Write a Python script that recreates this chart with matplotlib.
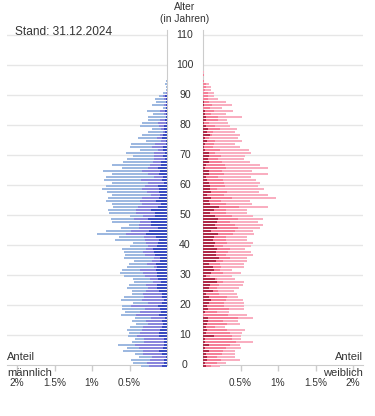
import matplotlib.pyplot as plt
import numpy as np
from matplotlib.transforms import blended_transform_factory

plt.rcParams['font.family'] = ['Liberation Sans', 'DejaVu Sans']

# Bevoelkerung nach Alter (Anteil in %), je drei Gruppen, Alter 0..100
ages = np.arange(0, 101)

male_dark = [
    0.07, 0.04, 0.04, 0.01, 0.07, 0.11, 0.05, 0.04, 0.04, 0.04,
    0.11, 0.11, 0.09, 0.07, 0.05, 0.07, 0.03, 0.11, 0.08, 0.09,
    0.12, 0.07, 0.04, 0.07, 0.07, 0.11, 0.13, 0.13, 0.08, 0.12,
    0.13, 0.13, 0.15, 0.13, 0.15, 0.09, 0.09, 0.16, 0.17, 0.19,
    0.13, 0.12, 0.11, 0.15, 0.28, 0.24, 0.12, 0.21, 0.21, 0.25,
    0.16, 0.16, 0.21, 0.12, 0.08, 0.15, 0.11, 0.09, 0.11, 0.11,
    0.12, 0.04, 0.07, 0.05, 0.11, 0.09, 0.12, 0.08, 0.08, 0.03,
    0.05, 0.03, 0.05, 0.05, 0.01, 0.01, 0.07, 0.05, 0.03, 0.04,
    0.04, 0.01, 0.03, 0.01, 0.01, 0.03, 0.01, 0.01, 0.01, 0.01,
    0.03, 0, 0, 0, 0, 0, 0, 0, 0, 0, 0]
male_mid = [
    0.17, 0.23, 0.19, 0.19, 0.25, 0.21, 0.33, 0.39, 0.27, 0.27,
    0.29, 0.25, 0.24, 0.25, 0.20, 0.21, 0.19, 0.31, 0.28, 0.20,
    0.36, 0.19, 0.29, 0.24, 0.25, 0.17, 0.12, 0.15, 0.11, 0.11,
    0.17, 0.19, 0.21, 0.05, 0.12, 0.11, 0.09, 0.13, 0.15, 0.09,
    0.12, 0.16, 0.19, 0.16, 0.27, 0.24, 0.25, 0.17, 0.15, 0.19,
    0.16, 0.25, 0.21, 0.27, 0.25, 0.21, 0.23, 0.13, 0.16, 0.23,
    0.17, 0.21, 0.28, 0.13, 0.15, 0.24, 0.13, 0.15, 0.11, 0.15,
    0.12, 0.15, 0.07, 0.15, 0.15, 0.07, 0.07, 0.05, 0.03, 0.04,
    0.07, 0.11, 0.07, 0.01, 0.03, 0.07, 0, 0.03, 0.01, 0.03,
    0.03, 0.01, 0, 0, 0, 0, 0, 0, 0, 0, 0]
male_light = [
    0.11, 0.19, 0.25, 0.17, 0.11, 0.27, 0.15, 0.23, 0.16, 0.12,
    0.12, 0.15, 0.20, 0.17, 0.16, 0.19, 0.21, 0.19, 0.20, 0.31,
    0.12, 0.19, 0.28, 0.27, 0.15, 0.19, 0.29, 0.23, 0.25, 0.23,
    0.27, 0.31, 0.24, 0.35, 0.24, 0.24, 0.39, 0.27, 0.25, 0.32,
    0.25, 0.17, 0.40, 0.33, 0.39, 0.33, 0.25, 0.13, 0.37, 0.31,
    0.17, 0.36, 0.37, 0.33, 0.41, 0.45, 0.45, 0.51, 0.53, 0.53,
    0.52, 0.48, 0.49, 0.64, 0.47, 0.52, 0.35, 0.51, 0.40, 0.36,
    0.28, 0.37, 0.24, 0.29, 0.32, 0.20, 0.25, 0.24, 0.19, 0.12,
    0.25, 0.21, 0.15, 0.23, 0.15, 0.17, 0.05, 0.16, 0.13, 0.12,
    0.05, 0.04, 0.01, 0.01, 0.03, 0.01, 0, 0, 0, 0, 0]

female_dark = [
    0.04, 0.03, 0.05, 0.05, 0.04, 0.08, 0.03, 0.08, 0.03, 0.03,
    0.15, 0.04, 0.05, 0.04, 0.05, 0.07, 0.07, 0, 0.03, 0.07,
    0.05, 0.08, 0.11, 0.08, 0.04, 0.13, 0.08, 0.09, 0.19, 0.16,
    0.04, 0.11, 0.15, 0.13, 0.08, 0.17, 0.21, 0.17, 0.17, 0.19,
    0.15, 0.16, 0.13, 0.15, 0.20, 0.11, 0.19, 0.16, 0.19, 0.20,
    0.16, 0.09, 0.15, 0.21, 0.09, 0.08, 0.11, 0.05, 0.11, 0.09,
    0.09, 0.08, 0.05, 0.04, 0.08, 0.08, 0.03, 0.04, 0.08, 0.07,
    0.08, 0.08, 0.03, 0.01, 0.03, 0.05, 0.03, 0.09, 0.05, 0.07,
    0.04, 0.01, 0.04, 0.04, 0.03, 0.03, 0, 0.01, 0.01, 0,
    0, 0, 0, 0, 0, 0, 0, 0, 0, 0, 0]
female_mid = [
    0.07, 0.16, 0.19, 0.13, 0.21, 0.19, 0.27, 0.28, 0.41, 0.35,
    0.23, 0.32, 0.27, 0.12, 0.27, 0.20, 0.39, 0.33, 0.15, 0.27,
    0.23, 0.20, 0.19, 0.24, 0.17, 0.07, 0.11, 0.12, 0.08, 0.03,
    0.05, 0.15, 0.07, 0.11, 0.15, 0.09, 0.15, 0.13, 0.16, 0.17,
    0.12, 0.16, 0.17, 0.15, 0.20, 0.32, 0.28, 0.27, 0.17, 0.27,
    0.23, 0.21, 0.16, 0.27, 0.21, 0.16, 0.27, 0.23, 0.21, 0.09,
    0.20, 0.20, 0.21, 0.16, 0.20, 0.17, 0.27, 0.25, 0.17, 0.13,
    0.16, 0.08, 0.19, 0.12, 0.11, 0.11, 0.05, 0.03, 0.08, 0.15,
    0.12, 0.07, 0.16, 0.16, 0.07, 0.12, 0.09, 0.11, 0.07, 0.07,
    0.07, 0.07, 0.03, 0.04, 0.04, 0.01, 0, 0.01, 0, 0, 0]
female_light = [
    0.12, 0.12, 0.25, 0.24, 0.17, 0.15, 0.20, 0.13, 0.23, 0.12,
    0.13, 0.16, 0.24, 0.13, 0.17, 0.20, 0.21, 0.25, 0.17, 0.20,
    0.27, 0.27, 0.23, 0.15, 0.24, 0.21, 0.29, 0.32, 0.27, 0.24,
    0.30, 0.25, 0.17, 0.31, 0.32, 0.32, 0.23, 0.36, 0.31, 0.20,
    0.37, 0.35, 0.29, 0.29, 0.28, 0.24, 0.29, 0.37, 0.37, 0.33,
    0.27, 0.28, 0.28, 0.39, 0.35, 0.39, 0.59, 0.59, 0.43, 0.63,
    0.44, 0.48, 0.45, 0.44, 0.59, 0.40, 0.56, 0.47, 0.37, 0.35,
    0.32, 0.48, 0.39, 0.36, 0.28, 0.36, 0.39, 0.37, 0.29, 0.23,
    0.20, 0.25, 0.12, 0.32, 0.21, 0.25, 0.16, 0.27, 0.23, 0.13,
    0.08, 0.08, 0.08, 0.07, 0.04, 0, 0, 0, 0.01, 0, 0]

tick_vals = [0.5, 1, 1.5, 2]
tick_labels = ['0.5%', '1%', '1.5%', '2%']
age_ticks = list(range(0, 111, 10))

male_colors = ['#3a4bc0', '#8a86dc', '#9db8e0']
female_colors = ['#b02a48', '#f57f98', '#f9aec0']
text_col = '#333333'

W, H = 375, 416
fig = plt.figure(figsize=(W / 100, H / 100), dpi=100)

# axes geometry in pixels (3 px per year)
y_bot, y_top = 365, 30
xmax = 160 / 75.0
axL = fig.add_axes([7 / W, (H - y_bot) / H, 160 / W, (y_bot - y_top) / H])
axR = fig.add_axes([203 / W, (H - y_bot) / H, 160 / W, (y_bot - y_top) / H])

bh = 2 / 3
ypos = ages - 1 / 3

def stack(ax, parts, colors):
    left = np.zeros(len(ages))
    for vals, c in zip(parts, colors):
        vals = np.array(vals)
        ax.barh(ypos, vals, left=left, height=bh, color=c, linewidth=0,
                clip_on=False, zorder=3)
        left += vals

stack(axL, [male_dark, male_mid, male_light], male_colors)
stack(axR, [female_dark, female_mid, female_light], female_colors)

axL.set_xlim(xmax, 0)
axR.set_xlim(0, xmax)

for ax in (axL, axR):
    ax.set_ylim(0, (y_bot - y_top) / 3)
    ax.set_yticks([])
    for a in age_ticks[1:]:
        ax.axhline(a, color='#e6e6e6', lw=1, zorder=1)
    ax.spines['top'].set_visible(False)
    ax.spines['bottom'].set_color('#cccccc')
    ax.set_xticks(tick_vals)
    ax.set_xticklabels(tick_labels)
    ax.tick_params(axis='x', length=4, width=1, color='#cccccc',
                   labelsize=7.2, labelcolor=text_col, pad=5)
    ax.set_facecolor('none')

axL.spines['left'].set_visible(False)
axL.spines['right'].set_color('#cccccc')
axR.spines['right'].set_visible(False)
axR.spines['left'].set_color('#cccccc')

# age labels in the middle
tr = blended_transform_factory(fig.transFigure, axL.transData)
for a in age_ticks:
    fig.text(185 / W, a, str(a), transform=tr, ha='center', va='center',
             fontsize=7.6, color=text_col)

fig.text(185 / W, 1 - 10.5 / H, 'Alter', ha='center', va='baseline',
         fontsize=7.4, color=text_col)
fig.text(185 / W, 1 - 22 / H, '(in Jahren)', ha='center', va='baseline',
         fontsize=7.4, color=text_col)
fig.text(15 / W, 1 - 35 / H, 'Stand: 31.12.2024', ha='left', va='baseline',
         fontsize=8.6, color=text_col)

fig.text(7 / W, 1 - 357 / H, 'Anteil', ha='left', va='center',
         fontsize=8, color=text_col)
fig.text(7 / W, 1 - 373 / H, 'männlich', ha='left', va='center',
         fontsize=8, color=text_col)
fig.text(363 / W, 1 - 357 / H, 'Anteil', ha='right', va='center',
         fontsize=8, color=text_col)
fig.text(363 / W, 1 - 373 / H, 'weiblich', ha='right', va='center',
         fontsize=8, color=text_col)

fig.savefig('out.png', dpi=100)
